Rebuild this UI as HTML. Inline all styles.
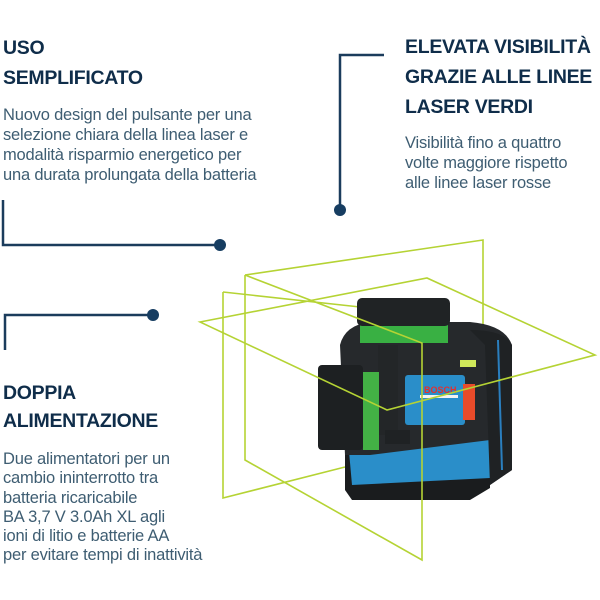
<!DOCTYPE html>
<html><head><meta charset="utf-8"><style>
body{margin:0;width:600px;height:600px;background:#fff;position:relative;overflow:hidden;font-family:"Liberation Sans",sans-serif}
.h{position:absolute;color:#0f2d4a;font-weight:bold;font-size:19.5px;line-height:30px;letter-spacing:-0.3px}
.b{position:absolute;color:#3e5d72;font-size:16.5px;line-height:20px;letter-spacing:-0.2px}
svg{position:absolute;left:0;top:0}
</style></head><body>
<svg width="600" height="600">
<g stroke="#1b3c5c" stroke-width="2.5" fill="none">
<polyline points="3,200 3,245 220,245"/>
<polyline points="384,55 340,55 340,210"/>
<polyline points="5,350 5,315 153,315"/>
</g>
<g fill="#163d61"><circle cx="220" cy="245" r="6"/><circle cx="340" cy="210" r="6"/><circle cx="153" cy="315" r="6"/></g>
<g stroke="#b5d334" stroke-width="1.6" fill="none">
<polyline points="245,275 483,240 483,325"/>
<polyline points="223,292 223,498 345,467"/>
<line x1="223" y1="292" x2="360" y2="307"/>
</g>
<g>
<path d="M345,450 L490,450 L490,488 L470,500 L352,500 L345,490Z" fill="#1a1c1e"/>
<path d="M348,440 L490,440 L490,478 L352,485Z" fill="#2a8ec9"/>
<path d="M340,345 Q345,325 370,322 L470,322 Q505,325 512,345 L512,470 L490,485 L490,440 L370,455 L345,455Z" fill="#26292c"/>
<path d="M470,330 Q505,330 512,345 L512,470 L490,485 L485,345Z" fill="#1f2224"/>
<line x1="498" y1="340" x2="502" y2="470" stroke="#2a7fbf" stroke-width="2"/>
<rect x="360" y="318" width="88" height="25" fill="#3fd24a" opacity="0.8"/>
<rect x="357" y="298" width="93" height="28" rx="5" fill="#202325"/>
<rect x="378" y="345" width="20" height="90" fill="#232628"/>
<rect x="318" y="365" width="45" height="85" rx="4" fill="#1d2022"/>
<rect x="363" y="372" width="16" height="78" fill="#49c94a" opacity="0.85"/>
<rect x="405" y="375" width="60" height="50" rx="3" fill="#2a8ec9"/>
<rect x="420" y="395" width="38" height="3" fill="#f2f2f2"/>
<text x="424" y="393" font-size="9" font-weight="bold" fill="#e23030" font-family="Liberation Sans">BOSCH</text>
<rect x="463" y="384" width="12" height="36" fill="#e94b2a"/>
<rect x="460" y="360" width="16" height="7" fill="#cfe85a"/>
<rect x="385" y="430" width="25" height="14" fill="#1f2224"/>
</g>
<g stroke="#b5d334" stroke-width="1.6" fill="none">
<polygon points="200,322 427,278 595,355 387,410"/>
<polyline points="245,275 245,460 422,560 422,343 245,275"/>
</g>
</svg>
<div class="h" style="left:3px;top:33px">USO</div>
<div class="h" style="left:3px;top:63px">SEMPLIFICATO</div>
<div class="b" style="left:3px;top:105px">Nuovo design del pulsante per una<br>selezione chiara della linea laser e<br>modalità risparmio energetico per<br>una durata prolungata della batteria</div>
<div class="h" style="left:405px;top:32px">ELEVATA VISIBILITÀ</div>
<div class="h" style="left:405px;top:62px">GRAZIE ALLE LINEE</div>
<div class="h" style="left:405px;top:92px">LASER VERDI</div>
<div class="b" style="left:405px;top:133px">Visibilità fino a quattro<br>volte maggiore rispetto<br>alle linee laser rosse</div>
<div class="h" style="left:3px;top:378px">DOPPIA</div>
<div class="h" style="left:3px;top:406px">ALIMENTAZIONE</div>
<div class="b" style="left:3px;top:450px;line-height:19.3px">Due alimentatori per un<br>cambio ininterrotto tra<br>batteria ricaricabile<br>BA 3,7 V 3.0Ah XL agli<br>ioni di litio e batterie AA<br>per evitare tempi di inattività</div>
</body></html>
